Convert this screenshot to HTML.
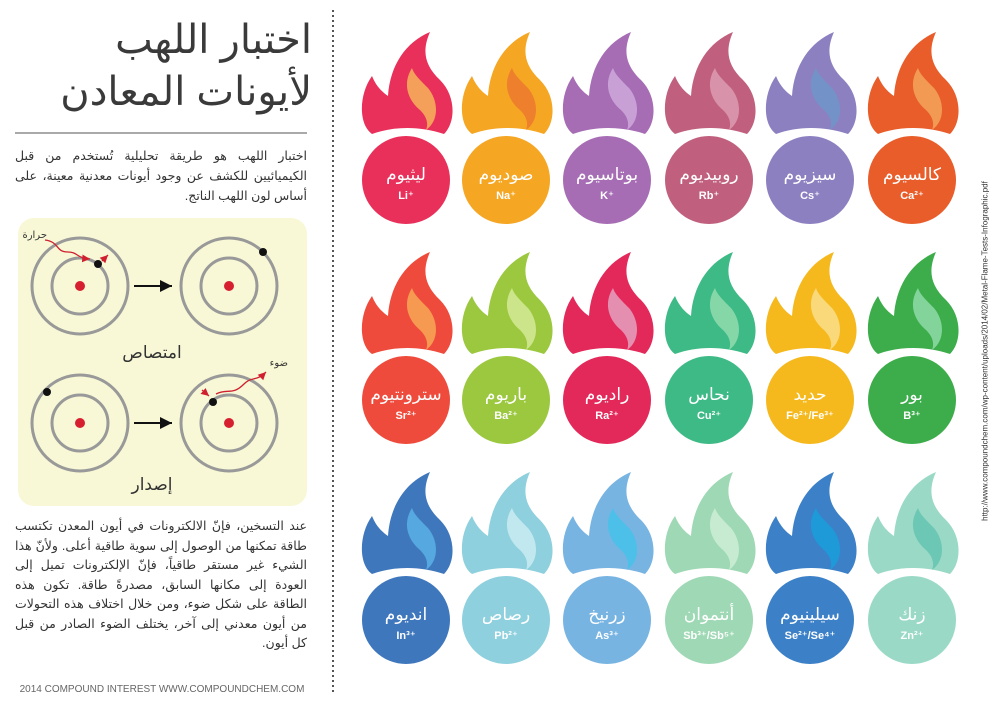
<!DOCTYPE html><html dir="ltr"><head><meta charset="utf-8"><style>
body{margin:0;width:1000px;height:702px;background:#fff;overflow:hidden;position:relative;font-family:"Liberation Sans","Noto Sans CJK SC","DejaVu Sans",sans-serif}
.t{position:absolute;direction:rtl;text-align:justify;text-align-last:right;color:#333}
</style></head><body>
<div class="t" style="right:688px;top:14px;width:300px;font-size:40px;line-height:52px;color:#3a3a3a;text-align:right">اختبار اللهب<br>لأيونات المعادن</div>
<div style="position:absolute;left:15px;top:132px;width:292px;height:2px;background:#aaa"></div>
<div class="t" style="left:15px;top:146px;width:292px;font-size:12.5px;line-height:20px">اختبار اللهب هو طريقة تحليلية تُستخدم من قبل الكيميائيين للكشف عن وجود أيونات معدنية معينة، على أساس لون اللهب الناتج.</div>
<div style="position:absolute;left:18px;top:218px;width:289px;height:288px;background:#f8f8d6;border-radius:16px"></div>
<svg style="position:absolute;left:0;top:0" width="340" height="702">
<defs><marker id="a" markerWidth="8" markerHeight="8" refX="6" refY="3" orient="auto"><path d="M0,0L6,3L0,6z" fill="#111"/></marker><marker id="r" markerWidth="8" markerHeight="8" refX="6" refY="3" orient="auto"><path d="M0,0L6,3L0,6z" fill="#d02030"/></marker></defs>
<g fill="none" stroke="#999" stroke-width="3">
<circle cx="80" cy="286" r="48"/><circle cx="80" cy="286" r="28"/>
<circle cx="229" cy="286" r="48"/><circle cx="229" cy="286" r="28"/>
<circle cx="80" cy="423" r="48"/><circle cx="80" cy="423" r="28"/>
<circle cx="229" cy="423" r="48"/><circle cx="229" cy="423" r="28"/></g>
<g fill="#d62030"><circle cx="80" cy="286" r="5"/><circle cx="229" cy="286" r="5"/><circle cx="80" cy="423" r="5"/><circle cx="229" cy="423" r="5"/></g>
<g fill="#111"><circle cx="98" cy="264" r="4"/><circle cx="263" cy="252" r="4"/><circle cx="47" cy="392" r="4"/><circle cx="213" cy="402" r="4"/></g>
<g stroke="#111" stroke-width="2"><line x1="134" y1="286" x2="172" y2="286" marker-end="url(#a)"/><line x1="134" y1="423" x2="172" y2="423" marker-end="url(#a)"/></g>
<g stroke="#d02030" stroke-width="1.3" fill="none">
<path d="M45,240 C60,242 55,252 68,252 C78,252 76,258 90,259" marker-end="url(#r)"/>
<path d="M102,261 L108,255" marker-end="url(#r)"/>
<path d="M216,394 C228,388 232,396 244,384 C252,376 256,382 266,372" marker-end="url(#r)"/>
<path d="M202,390 L209,396" marker-end="url(#r)"/></g>
<text x="47" y="238" font-size="10" text-anchor="end" fill="#333">حرارة</text>
<text x="288" y="366" font-size="10" text-anchor="end" fill="#333">ضوء</text>
<text x="152" y="358" font-size="17" text-anchor="middle" fill="#333">امتصاص</text>
<text x="152" y="490" font-size="17" text-anchor="middle" fill="#333">إصدار</text>
<text x="162" y="692" font-size="10" text-anchor="middle" fill="#666">2014 COMPOUND INTEREST WWW.COMPOUNDCHEM.COM</text>
<line x1="333" y1="10" x2="333" y2="695" stroke="#555" stroke-width="2" stroke-dasharray="2,3"/>
</svg>
<div class="t" style="left:15px;top:517px;width:292px;font-size:12.5px;line-height:19.5px">عند التسخين، فإنّ الالكترونات في أيون المعدن تكتسب طاقة تمكنها من الوصول إلى سوية طاقية أعلى. ولأنّ هذا الشيء غير مستقر طاقياً، فإنّ الإلكترونات تميل إلى العودة إلى مكانها السابق، مصدرةً طاقة. تكون هذه الطاقة على شكل ضوء، ومن خلال اختلاف هذه التحولات من أيون معدني إلى آخر، يختلف الضوء الصادر من قبل كل أيون.</div>
<div style="position:absolute;left:985px;top:351px;width:700px;transform:translate(-50%,-50%) rotate(-90deg);font-size:8px;color:#333;text-align:center;white-space:nowrap">http://www.compoundchem.com/wp-content/uploads/2014/02/Metal-Flame-Tests-Infographic.pdf</div>
<svg style="position:absolute;left:340px;top:0" width="640" height="702" font-family="Liberation Sans,DejaVu Sans,sans-serif">
<defs>
<path id="f" d="M-34 -46 C-48 -56 -47 -86 -34 -104 C-30 -94 -24 -88 -18 -84 C-16 -115 0 -138 24 -148 C16 -130 18 -115 34 -100 C50 -84 50 -58 38 -46 C14 -54 -12 -54 -34 -46Z"/>
<path id="i" d="M6 -112 C-4 -96 2 -80 14 -70 C22 -62 22 -55 20 -50 C34 -60 32 -80 22 -92 C12 -102 8 -106 6 -112Z"/>
</defs>
<g id="els"></g>
</svg>
<script>
var d=[["ليثيوم","Li⁺","#e8305a","#f5a05a"],["صوديوم","Na⁺","#f5a623","#ee7f2c"],["بوتاسيوم","K⁺","#a66db5","#c9a0d6"],["روبيديوم","Rb⁺","#c0607e","#d893aa"],["سيزيوم","Cs⁺","#8d80c0","#7393c8"],["كالسيوم","Ca²⁺","#e85d2a","#f29a53"],
["سترونتيوم","Sr²⁺","#ef4b3c","#f59a50"],["باريوم","Ba²⁺","#9bc83e","#cce58a"],["راديوم","Ra²⁺","#e3285a","#e48fb0"],["نحاس","Cu²⁺","#3dba85","#86d7a8"],["حديد","Fe²⁺/Fe³⁺","#f5b91e","#fad97a"],["بور","B³⁺","#3cad4a","#82d49a"],
["انديوم","In³⁺","#3f77bd","#56a8e0"],["رصاص","Pb²⁺","#8ed0dd","#c2e8ef"],["زرنيخ","As³⁺","#78b4e2","#4cc0e8"],["أنتموان","Sb³⁺/Sb⁵⁺","#9ed8b4","#c6ebd1"],["سيلينيوم","Se²⁺/Se⁴⁺","#3c80c8","#1e9ad8"],["زنك","Zn²⁺","#9ad9c6","#6cc8b4"]];
var xs=[66,166,267,369,470,572],ys=[180,400,620],h="";
d.forEach(function(e,k){var x=xs[k%6],y=ys[Math.floor(k/6)];
h+='<g transform="translate('+x+','+y+')"><use href="#f" fill="'+e[2]+'"/><use href="#i" fill="'+e[3]+'"/><circle r="46" fill="'+e[2]+'" stroke="#fff" stroke-width="4"/><text y="0" font-size="17" fill="#fff" text-anchor="middle">'+e[0]+'</text><text y="19" font-size="11" fill="#fff" text-anchor="middle" font-weight="bold">'+e[1]+'</text></g>';});
document.getElementById("els").innerHTML=h;
</script>
</body></html>
